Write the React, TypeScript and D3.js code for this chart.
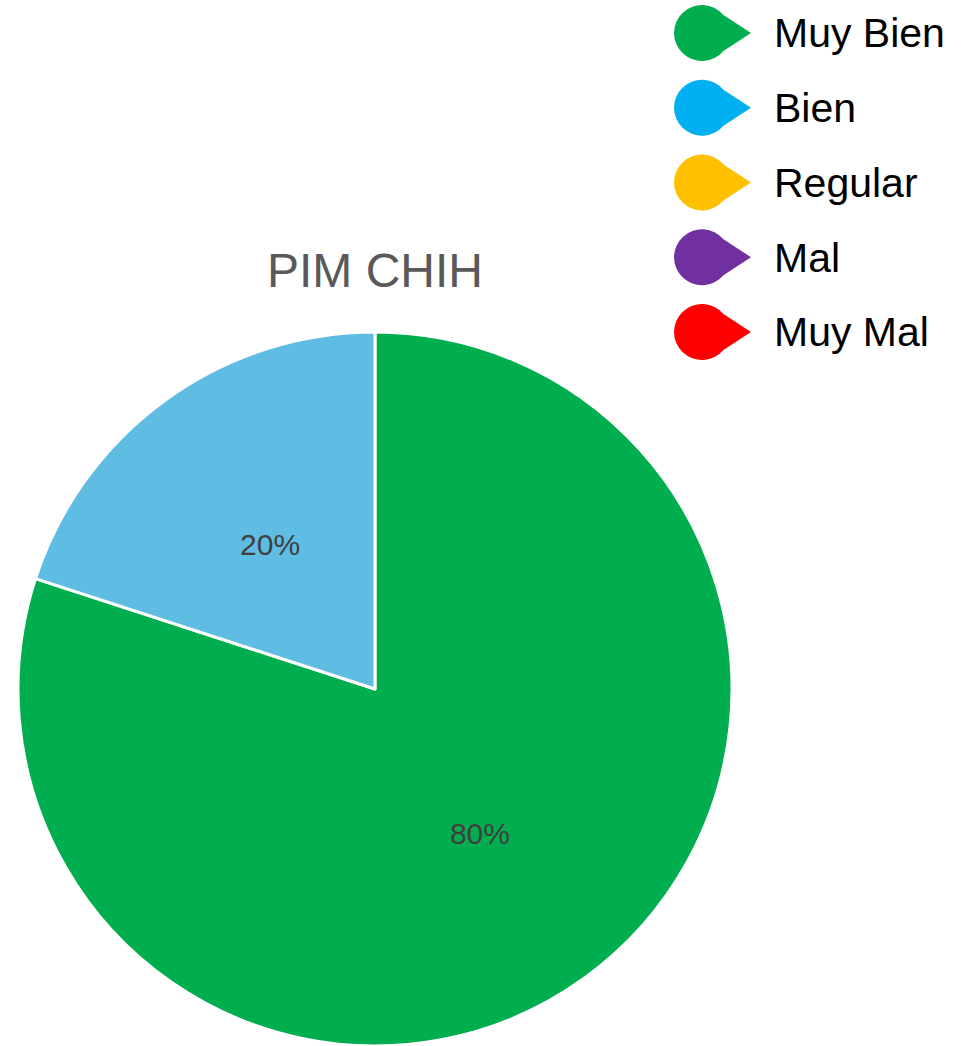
import React from "react";
import * as d3 from "d3";

// chart data
const categories = ["Muy Bien", "Bien", "Regular", "Mal", "Muy Mal"];
const values = [80, 20, 0, 0, 0];
const sliceColors = ["#00AE4F", "#5FBDE4", "#FFC000", "#7030A0", "#FF0000"];
const legendColors = ["#00AE4F", "#00B0F0", "#FFC000", "#7030A0", "#FF0000"];
const title = "PIM CHIH";

const sizing = { width: 973, height: 1046, cx: 375, cy: 689, r: 357 };

const font = "'Liberation Sans', Arial, sans-serif";

// teardrop marker: circle with a wedge pointing right
function markerPath(r: number) {
  const a = (40 * Math.PI) / 180;
  const x1 = r * Math.cos(a);
  const y1 = r * Math.sin(a);
  const tip = r * 1.75;
  return (
    `M${x1},${-y1} L${tip},0 L${x1},${y1} ` +
    `A${r},${r} 0 1 1 ${x1},${-y1} Z`
  );
}

function App() {
  const data = categories.map((c, i) => ({ name: c, value: values[i], i }));

  const pie = d3
    .pie<any>()
    .sort(null)
    .value((d) => d.value);
  const arcs = pie(data);

  const arc = d3.arc<any>().innerRadius(0).outerRadius(sizing.r);
  const labelArc = d3
    .arc<any>()
    .innerRadius(sizing.r * 0.5)
    .outerRadius(sizing.r * 0.5);

  const total = d3.sum(values);

  const legendY = d3
    .scalePoint()
    .domain(categories)
    .range([33, 332]);

  const slices = arcs
    .filter((a) => a.data.value > 0)
    .map((a) => (
      <path
        key={`slice${a.index}`}
        d={arc(a) || ""}
        fill={sliceColors[a.data.i]}
        stroke="white"
        strokeWidth={3}
        strokeLinejoin="round"
      />
    ));

  const labels = arcs
    .filter((a) => a.data.value > 0)
    .map((a) => {
      const [x, y] = labelArc.centroid(a);
      return (
        <text
          key={`label${a.index}`}
          x={x}
          y={y}
          dy="0.35em"
          textAnchor="middle"
          fontFamily={font}
          fontSize={30}
          fill="#404040"
        >
          {Math.round((a.data.value / total) * 100)}%
        </text>
      );
    });

  const legend = categories.map((c, i) => {
    const y = legendY(c) || 0;
    return (
      <g key={`legend${i}`} transform={`translate(702,${y})`}>
        <path d={markerPath(28)} fill={legendColors[i]} />
        <text
          x={72}
          y={0}
          dy="0.35em"
          fontFamily={font}
          fontSize={41}
          fill="black"
        >
          {c}
        </text>
      </g>
    );
  });

  return (
    <svg
      width={sizing.width}
      height={sizing.height}
      style={{ position: "absolute", left: 0, top: 0 }}
    >
      <rect width={sizing.width} height={sizing.height} fill="white" />
      <text
        x={sizing.cx}
        y={287}
        textAnchor="middle"
        fontFamily={font}
        fontSize={48}
        fill="#595959"
      >
        {title}
      </text>
      <g transform={`translate(${sizing.cx},${sizing.cy})`}>
        {slices}
        {labels}
      </g>
      {legend}
    </svg>
  );
}

export default App;
